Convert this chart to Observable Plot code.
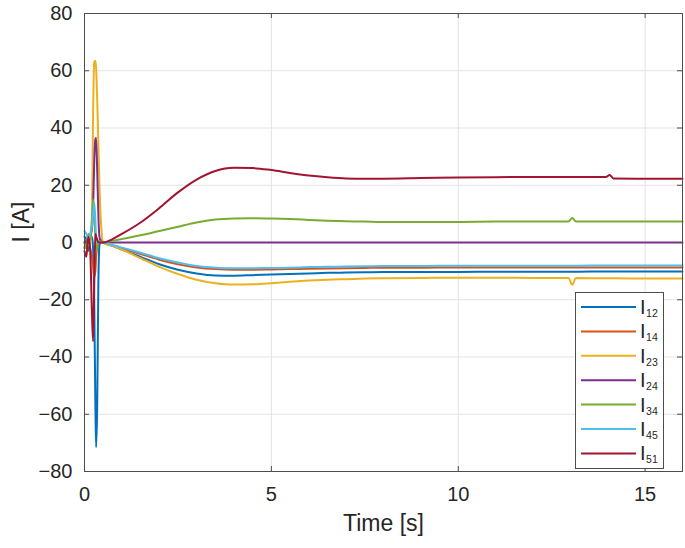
<!DOCTYPE html>
<html><head><meta charset="utf-8">
<script src="https://cdn.jsdelivr.net/npm/d3@7"></script>
<script src="https://cdn.jsdelivr.net/npm/@observablehq/plot@0.6"></script>
<style>body{margin:0;background:#fff} #chart{position:relative;width:685px;height:548px}</style>
</head><body><div id="chart"></div>
<script>
// time samples [s]
const time = [0, 0.05, 0.1, 0.15, 0.2, 0.23, 0.26, 0.29, 0.31, 0.34, 0.37, 0.4, 0.45, 0.5,
  0.75, 1, 1.5, 2, 2.5, 3, 3.5, 4, 4.5, 5, 5.5, 6, 6.5, 7, 7.5, 8, 9, 10, 11, 12,
  12.95, 13.05, 13.15, 13.95, 14.05, 14.15, 15, 16];
// currents [A]
const I12 = [2, 1, -3, 1, 2, -2, -20, -55, -71.5, -57, -15, -1, 1, 0,
  -1.2, -2.5, -5, -7.6, -9.5, -10.8, -11.5, -11.6, -11.4, -11.2, -11, -10.8, -10.6, -10.5, -10.4, -10.3, -10.3, -10.3, -10.2, -10.2,
  -10.2, -10.2, -10.2, -10.1, -10.1, -10.1, -10.1, -10.1];
const I14 = [0, -1, 1, -2, -5, -8, -12, -10, -5, -2, 0, 0, 0, 0,
  -1, -2, -4, -6, -7.6, -8.7, -9.3, -9.5, -9.5, -9.4, -9.3, -9.2, -9.1, -9, -8.9, -8.8, -8.8, -8.7, -8.7, -8.7,
  -8.7, -8.7, -8.7, -8.7, -8.7, -8.7, -8.7, -8.7];
const I23 = [0, 1, -1, 0, 10, 45, 63, 63.5, 61, 50, 35, 20, 5, 0,
  -1.2, -2.5, -5.5, -8.5, -11, -13, -14.2, -14.7, -14.6, -14.2, -13.7, -13.3, -13, -12.8, -12.6, -12.5, -12.4, -12.3, -12.3, -12.4,
  -12.4, -14.8, -12.4, -12.5, -12.5, -12.5, -12.6, -12.6];
const I24 = [-2, 1, 0, 2, 5, 12, 28, 36, 36.6, 25, 10, 2, 0, 0,
  0, 0, 0, 0, 0, 0, 0, 0, 0, 0, 0, 0, 0, 0, 0, 0, 0, 0, 0, 0,
  0, 0, 0, 0, 0, 0, 0, 0];
const I34 = [0, -2, 3, 1, 8, 15, 10, 2, -3, -1, 0, 0.5, 0, 0,
  0.6, 1.2, 2.5, 4, 5.5, 7, 8, 8.4, 8.5, 8.4, 8.2, 7.9, 7.6, 7.4, 7.3, 7.2, 7.2, 7.2, 7.3, 7.3,
  7.3, 8.6, 7.3, 7.3, 7.3, 7.3, 7.3, 7.3];
const I45 = [4, 3, 1, 3, 6, 10, 14, 8, 2, 0, 0, 0, 0, 0,
  -0.9, -1.8, -3.6, -5.5, -7, -8.2, -8.8, -9, -9, -8.9, -8.8, -8.6, -8.5, -8.4, -8.3, -8.2, -8.2, -8.1, -8.1, -8.1,
  -8.1, -8.1, -8.1, -8, -8, -8, -8, -8];
const I51 = [-3, -5, 2, -2, -25, -34.5, -15, 3, 2, 1, 0, 0, 0, 0,
  1.2, 3, 7, 12, 17.5, 22, 25, 26.1, 26, 25.3, 24.3, 23.4, 22.8, 22.4, 22.3, 22.3, 22.5, 22.7, 22.8, 22.9,
  22.9, 22.9, 22.9, 22.9, 23.6, 22.4, 22.3, 22.3];

const seriesNames = ["12", "14", "23", "24", "34", "45", "51"];
const colors = ["#0072BD", "#D95319", "#EDB120", "#7E2F8E", "#77AC30", "#4DBEEE", "#A2142F"];
const xTicks = [0, 5, 10, 15];
const yTicks = [-80, -60, -40, -20, 0, 20, 40, 60, 80];

const seriesValues = [I12, I14, I23, I24, I34, I45, I51];
const data = seriesNames.flatMap((s, i) => time.map((t, j) => ({t, v: seriesValues[i][j], s})));

const W = 685, H = 548, mL = 84, mR = 3, mT = 13, mB = 77;
const pw = W - mL - mR, ph = H - mT - mB;
const font = "'Liberation Sans', Arial, Helvetica, sans-serif";
const axisColor = "#4d4d4d";

const chart = Plot.plot({
  width: W, height: H,
  marginLeft: mL, marginRight: mR, marginTop: mT, marginBottom: mB,
  style: {fontFamily: font, fontSize: "20px", color: "#262626", background: "#fff"},
  x: {domain: [0, 16]},
  y: {domain: [-80, 80]},
  color: {domain: seriesNames, range: colors},
  marks: [
    Plot.gridX(xTicks, {stroke: "#e3e3e3", strokeOpacity: 1}),
    Plot.gridY(yTicks, {stroke: "#e3e3e3", strokeOpacity: 1}),
    Plot.line(data, {x: "t", y: "v", z: "s", stroke: "s", strokeWidth: 2, curve: "monotone-x"}),
    Plot.axisX(xTicks, {tickSize: 0, tickPadding: 15, fontSize: 20, label: null}),
    Plot.axisY(yTicks, {tickSize: 0, tickPadding: 12, fontSize: 20, label: null}),
    Plot.ruleY(yTicks, {stroke: axisColor, insetRight: pw - 5}),
    Plot.ruleY(yTicks, {stroke: axisColor, insetLeft: pw - 5}),
    Plot.ruleX(xTicks, {stroke: axisColor, insetTop: ph - 5}),
    Plot.ruleX(xTicks, {stroke: axisColor, insetBottom: ph - 5}),
    Plot.frame({stroke: axisColor}),
    Plot.text(["Time [s]"], {text: d => d, frameAnchor: "bottom", dy: 59, fontSize: 23, fill: "#262626"}),
    Plot.text(["I [A]"], {text: d => d, frameAnchor: "left", rotate: -90, dx: -63, fontSize: 23, fill: "#262626"})
  ]
});

// legend inside the axes (lower right)
const svg = d3.select(chart);
const lg = svg.append("g").attr("font-family", font).attr("fill", "#262626").attr("text-anchor", "start");
lg.append("rect").attr("x", 575.5).attr("y", 292.5).attr("width", 88).attr("height", 176)
  .attr("fill", "#fff").attr("stroke", axisColor);
seriesNames.forEach((s, i) => {
  const y = 307 + i * 24.4;
  lg.append("line").attr("x1", 581).attr("x2", 636).attr("y1", y).attr("y2", y)
    .attr("stroke", colors[i]).attr("stroke-width", 2);
  const t = lg.append("text").attr("x", 640).attr("y", y + 7).attr("font-size", 20).attr("text-anchor", "start");
  t.append("tspan").text("I");
  t.append("tspan").attr("dx", 0.5).attr("dy", 3).attr("font-size", 10.5).text(s);
});

document.getElementById("chart").appendChild(chart);
</script>
</body></html>
